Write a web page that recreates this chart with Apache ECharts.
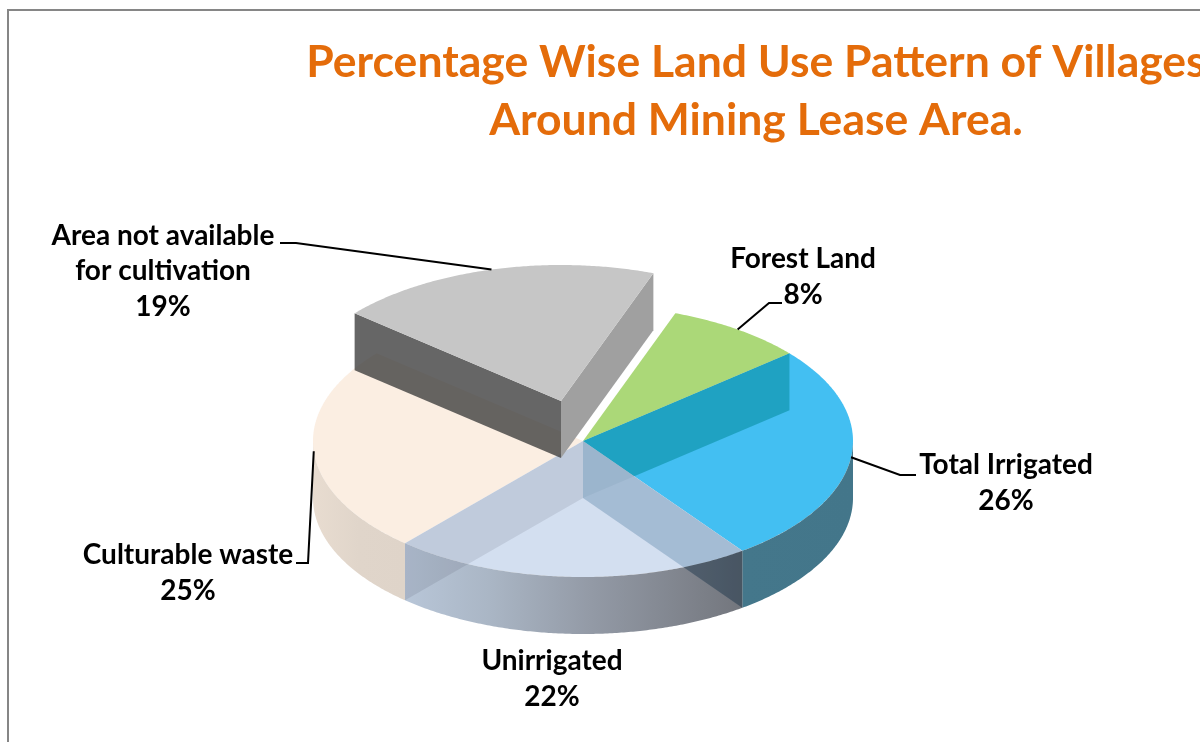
<!DOCTYPE html>
<html>
<head>
<meta charset="utf-8">
<style>
  html, body { margin: 0; padding: 0; background: #fff; }
  #chart { width: 1200px; height: 742px; }
</style>
<script src="https://cdn.jsdelivr.net/npm/echarts@6/dist/echarts.min.js"></script>
</head>
<body>
<div id="chart"></div>
<script>
// clockwise from the top of the pie, labels show the rounded share
const categories = ["Forest Land", "Total Irrigated", "Unirrigated", "Culturable waste", "Area not available\nfor cultivation"];
const shares = [8.3, 26.1, 21.5, 24.7, 19.4];
const titleLines = ["Percentage Wise Land Use Pattern of Villages", "Around Mining Lease Area."];

// projected pie geometry (tilted ellipse plus extruded depth)
const cx = 583, cy = 441, rx = 270, ry = 136, depth = 57;
const startAngle = 70;
const explode = [[0, 0], [0, 0], [0, 0], [0, 0], [-22, -40]];

const topColors = ["#ABD878", "#43BFF2", "#D3DFF0", "#FBEEE2", "#C6C6C6"];
const topLayers = [3, 2, 5, 1, 13];
const rimStops = [
  null,
  [[0, "#44778B"], [1, "#43768A"]],
  [[0, "#B8C6D8"], [0.25, "#AAB6C5"], [0.55, "#939AA6"], [1, "#73767D"]],
  [[0, "#E8DCD0"], [0.5, "#E0D5CA"], [1, "#DFD4C9"]],
  null
];
// side walls on the clockwise start and end edge of a slice
const endWalls = [
  { fill: "rgba(0,145,160,0.5)", z2: 4 },
  { fill: "rgba(0,64,113,0.22)", z2: 7 },
  { fill: "rgba(30,25,45,0.1)", z2: 7 },
  null,
  { fill: "#A0A0A0", z2: 12 }
];
const startWalls = [null, null, null, null, { fill: "rgba(64,64,64,0.8)", z2: 11 }];

// label centres and leader elbows
const labelCenters = [[803, 277], [1006, 483], [552, 679], [188, 573], [163, 271]];
const leaderElbows = [
  [[769, 303], [782, 303]],
  [[900, 475], [916, 475]],
  null,
  [[308, 563], [296, 563]],
  [[296, 243], [280, 243]]
];

function pt(a, ox, oy) {
  const r = a * Math.PI / 180;
  return [cx + ox + rx * Math.cos(r), cy + oy - ry * Math.sin(r)];
}
function arc(a0, a1, ox, oy) {
  const n = Math.max(2, Math.ceil(Math.abs(a1 - a0) * 2));
  const out = [];
  for (let i = 0; i <= n; i++) out.push(pt(a0 + (a1 - a0) * i / n, ox, oy));
  return out;
}
function wall(a, ox, oy) {
  const p = pt(a, ox, oy);
  return [[cx + ox, cy + oy], p, [p[0], p[1] + depth], [cx + ox, cy + oy + depth]];
}
// the part of the front rim which the wall of edge a shows through
function rimOverlap(a) {
  const e = pt(a, 0, 0);
  const slope = (e[1] - cy) / (e[0] - cx);
  const out = [];
  for (let t = a; t > -180; t -= 0.25) {
    const p = pt(t, 0, 0);
    if (p[1] >= cy + depth + slope * (p[0] - cx)) break;
    out.push(p);
  }
  out.push([e[0], e[1] + depth]);
  return out;
}

const total = shares.reduce((s, v) => s + v, 0);

function renderSlice(params, api) {
  const i = params.dataIndex;
  let before = 0;
  for (let k = 0; k < i; k++) before += shares[k];
  const a0 = startAngle - before / total * 360;
  const a1 = a0 - api.value(0) / total * 360;
  const ox = explode[i][0], oy = explode[i][1];
  const children = [];

  children.push({
    type: "polygon", z2: topLayers[i],
    shape: { points: [[cx + ox, cy + oy]].concat(arc(a0, a1, ox, oy)) },
    style: { fill: topColors[i] }
  });

  // rim only shows on the front half
  const r0 = Math.min(a0, 0), r1 = Math.max(a1, -180);
  if (rimStops[i] && r0 > r1) {
    const up = arc(r0, r1, ox, oy);
    const down = up.map(p => [p[0], p[1] + depth]).reverse();
    children.push({
      type: "polygon", z2: 6,
      shape: { points: up.concat(down) },
      style: {
        fill: new echarts.graphic.LinearGradient(0, 0, 1, 0,
          rimStops[i].map(s => ({ offset: s[0], color: s[1] })))
      }
    });
  }

  if (endWalls[i]) {
    children.push({
      type: "polygon", z2: endWalls[i].z2,
      shape: { points: wall(a1, ox, oy) },
      style: { fill: endWalls[i].fill }
    });
  }
  if (startWalls[i]) {
    children.push({
      type: "polygon", z2: startWalls[i].z2,
      shape: { points: wall(a0, ox, oy) },
      style: { fill: startWalls[i].fill }
    });
  }
  if (i === 0) {
    // faint trace of the forest wall over the unirrigated top
    children.push({
      type: "polygon", z2: 9,
      shape: { points: wall(a1, ox, oy) },
      style: { fill: "rgba(0,50,70,0.05)" }
    });
  }
  if (i === 1) {
    children.push({
      type: "polygon", z2: 8,
      shape: { points: rimOverlap(a1) },
      style: { fill: "rgba(0,0,0,0.19)" }
    });
  }

  if (leaderElbows[i]) {
    const start = pt((a0 + a1) / 2, ox, oy);
    children.push({
      type: "polyline", z2: 20,
      shape: { points: [start].concat(leaderElbows[i]) },
      style: { fill: null, stroke: "#000", lineWidth: 2 }
    });
  }

  children.push({
    type: "text", z2: 21,
    style: {
      text: categories[i] + "\n" + Math.round(api.value(0)) + "%",
      x: labelCenters[i][0], y: labelCenters[i][1],
      align: "center", verticalAlign: "middle",
      fontFamily: "Lato", fontWeight: "bold", fontSize: 28, lineHeight: 35.5,
      fill: "#000"
    }
  });

  return { type: "group", children: children };
}

const chart = echarts.init(document.getElementById("chart"), null, { renderer: "canvas" });
chart.setOption({
  animation: false,
  backgroundColor: "#fff",
  title: {
    text: titleLines.join("\n"),
    left: 751,
    top: 29,
    textAlign: "center",
    textStyle: {
      color: "#E46C0A",
      fontFamily: "Lato",
      fontWeight: "bold",
      fontSize: 44.5,
      lineHeight: 58
    }
  },
  graphic: [{
    type: "polyline",
    shape: { points: [[8, 742], [8, 10], [1200, 10]] },
    style: { fill: null, stroke: "#868686", lineWidth: 2 },
    silent: true
  }],
  series: [{
    type: "custom",
    coordinateSystem: "none",
    silent: true,
    clip: false,
    renderItem: renderSlice,
    data: shares.map(v => [v])
  }]
});
</script>
</body>
</html>
